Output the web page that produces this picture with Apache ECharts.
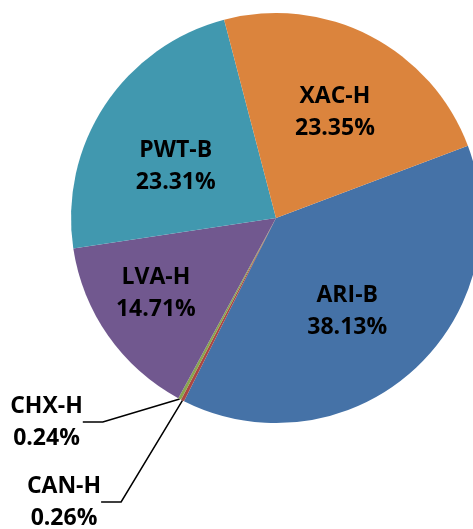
<!DOCTYPE html>
<html>
<head>
<meta charset="utf-8">
<script src="https://cdn.jsdelivr.net/npm/echarts@6/dist/echarts.min.js"></script>
<style>
  html, body { margin: 0; padding: 0; background: #ffffff; }
  #chart { width: 473px; height: 529px; }
</style>
</head>
<body>
<div id="chart"></div>
<script>
// Data (clockwise from the start angle)
const categories = ['ARI-B', 'CAN-H', 'CHX-H', 'LVA-H', 'PWT-B', 'XAC-H'];
const shares = [38.13, 0.26, 0.24, 14.71, 23.31, 23.35];
const colors = ['#4572A7', '#AA4643', '#89A54E', '#71588F', '#4198AF', '#DB843D'];
const smallSlices = ['CAN-H', 'CHX-H'];

// Label placement tweaks (layout only)
const outsideLabelPos = {
  'CAN-H': { x: 64, y: 502 },
  'CHX-H': { x: 46.5, y: 422 }
};
const insideLabelOffset = {
  'ARI-B': [-13, 0],
  'LVA-H': [-17, 3],
  'PWT-B': [5, 18],
  'XAC-H': [1, 6]
};

const CENTER = [276, 218];
const R = 205;
const START = 20.6;

const fmt = function (p) { return p.name + '\n' + Number(p.value).toFixed(2) + '%'; };
const labelFont = {
  fontFamily: 'Open Sans',
  fontWeight: 'bold',
  fontSize: 23,
  lineHeight: 32,
  color: '#000000',
  align: 'center'
};

const mainData = categories.map(function (c, i) {
  const small = smallSlices.indexOf(c) >= 0;
  return {
    name: c,
    value: shares[i],
    itemStyle: { color: colors[i] },
    label: { show: small },
    labelLine: { show: small }
  };
});

const overlayData = categories.map(function (c, i) {
  const small = smallSlices.indexOf(c) >= 0;
  return {
    name: c,
    value: shares[i],
    label: { show: !small, offset: insideLabelOffset[c] || [0, 0] }
  };
});

const chart = echarts.init(document.getElementById('chart'), null, { renderer: 'canvas' });
chart.setOption({
  backgroundColor: '#ffffff',
  animation: false,
  series: [
    {
      type: 'pie',
      center: CENTER,
      radius: [0, R],
      startAngle: START,
      clockwise: true,
      avoidLabelOverlap: false,
      silent: true,
      itemStyle: { borderWidth: 0 },
      data: mainData,
      label: Object.assign({
        position: 'outside',
        formatter: fmt
      }, labelFont),
      labelLine: {
        show: true,
        length: 20,
        length2: 20,
        smooth: false,
        lineStyle: { color: '#000000', width: 1.5 }
      },
      labelLayout: function (params) {
        const name = categories[params.dataIndex];
        const pos = outsideLabelPos[name];
        if (pos) {
          return { x: pos.x, y: pos.y, align: 'center', verticalAlign: 'middle' };
        }
        return {};
      }
    },
    {
      type: 'pie',
      center: CENTER,
      radius: [R * 0.2, R],
      startAngle: START,
      clockwise: true,
      avoidLabelOverlap: false,
      silent: true,
      itemStyle: { color: 'rgba(0,0,0,0)', borderWidth: 0 },
      data: overlayData,
      label: Object.assign({
        position: 'inside',
        formatter: fmt
      }, labelFont),
      labelLine: { show: false }
    }
  ]
});
</script>
</body>
</html>
